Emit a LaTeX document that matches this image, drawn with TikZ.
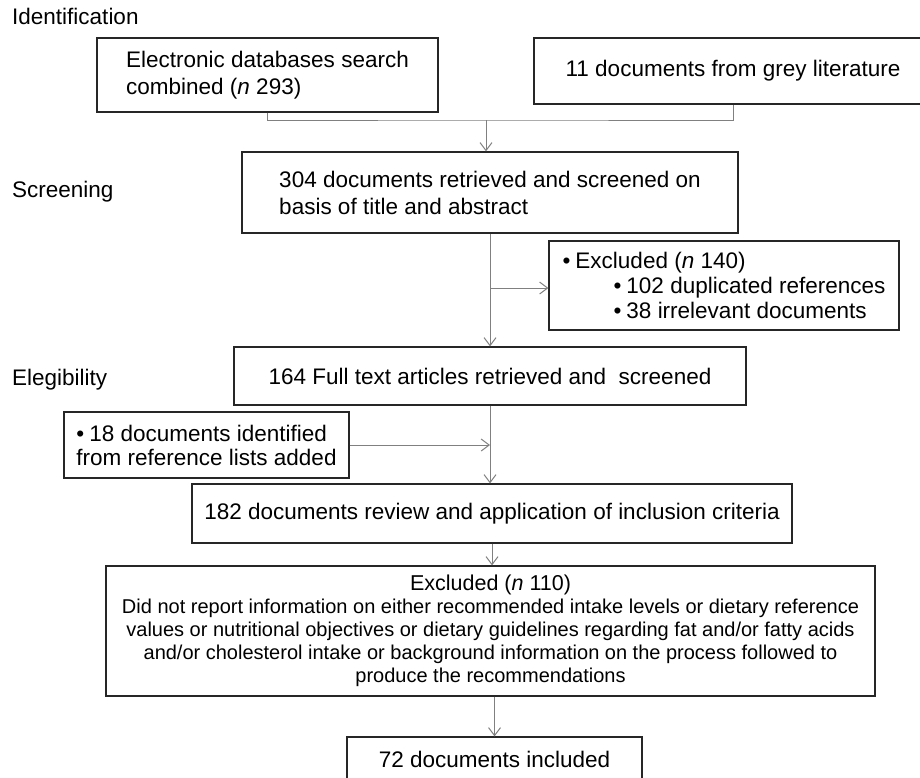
\documentclass[tikz,border=0pt]{standalone}
\usepackage{fontspec}
\setmainfont{Liberation Sans}
\usetikzlibrary{arrows.meta}
\begin{document}
\begin{tikzpicture}[x=1pt,y=-1pt,
  box/.style={draw=black!85,line width=1.2pt,inner sep=0pt,font=\fontsize{22.5}{27}\selectfont},
  conn/.style={draw=black!50,line width=1pt},
  arr/.style={conn,-{Straight Barb[length=8pt,width=12pt,line width=1pt]}},
  lab/.style={anchor=base west,inner sep=0pt,font=\fontsize{22.5}{27}\selectfont}]
\useasboundingbox (0,0) rectangle (920,777);
\clip (0,0) rectangle (920,777);
\fill[white] (0,0) rectangle (920,777);

% stage labels
\node[lab] (lid) at (12,24) {Identification};
\node[lab] (lsc) at (12,197) {Screening};
\node[lab] (lel) at (12,385) {Elegibility};

% boxes
\node[box,minimum width=341pt,minimum height=74pt,align=left] (b1) at (267.5,75)
  {Electronic databases search\\combined (\textit{n} 293)};
\node[box,minimum width=398pt,minimum height=66pt] (b2) at (733,71)
  {11 documents from grey literature};
\node[box,minimum width=496pt,minimum height=81pt,align=left] (b3) at (490,192.5)
  {304 documents retrieved and screened on\\basis of title and abstract};
\node[box,minimum width=350pt,minimum height=89pt,align=left,font=\fontsize{22.5}{25}\selectfont] (b5) at (724,285.5)
  {•\hspace{5pt}Excluded (\textit{n} 140)\\
   \hspace*{51pt}•\hspace{5pt}102 duplicated references\\
   \hspace*{51pt}•\hspace{5pt}38 irrelevant documents};
\node[box,minimum width=512pt,minimum height=58pt] (b4) at (490,376)
  {164 Full text articles retrieved and \ screened};
\node[box,minimum width=285pt,minimum height=66pt,align=left,font=\fontsize{22.5}{24}\selectfont] (b6) at (206.5,445)
  {•\hspace{5pt}18 documents identified\\from reference lists added};
\node[box,minimum width=600pt,minimum height=59pt] (b7) at (492,513.5)
  {182 documents review and application of inclusion criteria};
\node[box,minimum width=769pt,minimum height=130pt,align=center,font=\fontsize{20}{23}\selectfont] (b8) at (490.5,631)
  {{\fontsize{21.5}{23}\selectfont Excluded (\textit{n} 110)}\\
   Did not report information on either recommended intake levels or dietary reference\\
   values or nutritional objectives or dietary guidelines regarding fat and/or fatty acids\\
   and/or cholesterol intake or background information on the process followed to\\
   produce the recommendations};
\node[box,minimum width=295pt,minimum height=44pt] (b9) at (494.5,759)
  {72 documents included};

% connectors
\coordinate (j1) at (486,120);
\coordinate (j2) at (490,288);
\draw[conn] (b1.south) |- (j1) -| (b2.south);
\draw[arr] (j1) -- (j1 |- b3.north);
\draw[arr] (b3.south) -- (b4.north);
\draw[arr] (j2) -- (j2 -| b5.west);
\draw[arr] (b4.south) -- (b4.south |- b7.north);
\draw[arr] (b6.east) -- (b6.east -| b4.south);
\draw[arr] (b7.south) -- (b7.south |- b8.north);
\draw[arr] (b9.north |- b8.south) -- (b9.north);
\end{tikzpicture}
\end{document}
